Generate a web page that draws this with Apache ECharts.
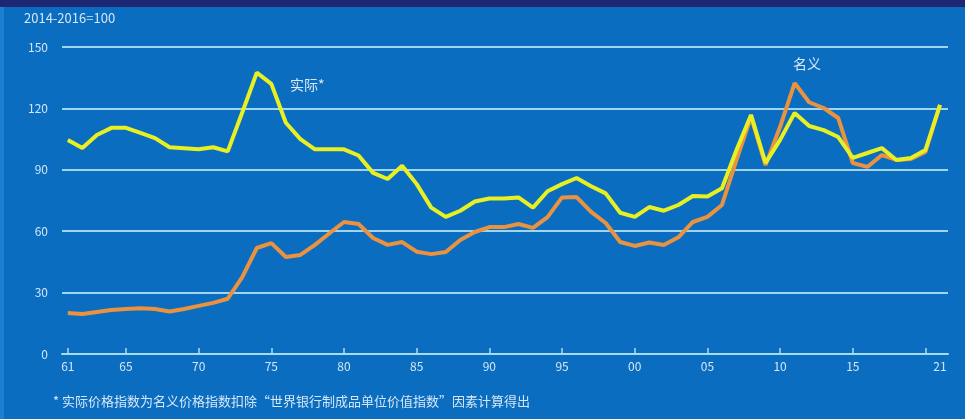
<!DOCTYPE html>
<html>
<head>
<meta charset="utf-8">
<script src="https://cdn.jsdelivr.net/npm/echarts@6/dist/echarts.min.js"></script>
<style>
html,body{margin:0;padding:0;background:#0a6dc0;}
#c{width:965px;height:419px;}
</style>
</head>
<body>
<div id="c"></div>
<script>
const years = [1961,1962,1963,1964,1965,1966,1967,1968,1969,1970,
  1971,1972,1973,1974,1975,1976,1977,1978,1979,1980,
  1981,1982,1983,1984,1985,1986,1987,1988,1989,1990,
  1991,1992,1993,1994,1995,1996,1997,1998,1999,2000,
  2001,2002,2003,2004,2005,2006,2007,2008,2009,2010,
  2011,2012,2013,2014,2015,2016,2017,2018,2019,2020,2021];
const realIndex = [104.6,100.6,107,110.5,110.5,108,105.5,101,100.5,100,
  101,99,118,137.5,132,113,105,100,100,100,
  97,88.5,85.5,92,83,71.5,67,70,74.5,76,
  76,76.5,71.5,79.5,83,86,82,78.5,69,67,
  71.8,70,72.8,77.2,77,81,99.7,116.8,93.3,104.6,
  117.8,111.4,109.4,106,95.8,98.2,100.6,94.8,95.8,99.7,121.7];
const nominalIndex = [20,19.5,20.5,21.5,22,22.4,22,20.8,22,23.5,
  25,27,37.6,51.8,54.2,47.4,48.4,53.3,59,64.5,
  63.5,56.7,53.3,54.7,50,48.8,49.8,55.7,59.6,62,
  62,63.5,61.6,66.9,76.5,76.7,69.4,64,54.7,52.8,
  54.5,53.3,57,64.5,67,72.8,94.8,115.8,92.3,111,
  132.4,123,120.2,115.3,93.3,91.4,97.2,94.8,95.3,98.7,121.7];
const xLabelYears = [1961,1965,1970,1975,1980,1985,1990,1995,2000,2005,2010,2015,2021];
const xTickYears = [1961,1965,1970,1975,1980,1985,1990,1995,2000,2005,2010,2015,2020];
const yTicks = [0,30,60,90,120,150];
const unitNote = '2014-2016=100';
const realName = '实际*';
const nominalName = '名义';
const footnote = '* 实际价格指数为名义价格指数扣除“世界银行制成品单位价值指数”因素计算得出';

const chart = echarts.init(document.getElementById('c'));
const font = '"Noto Sans CJK SC","Noto Sans",sans-serif';
const txt = '#d6e6f6';
chart.setOption({
  backgroundColor: '#0a6dc0',
  animation: false,
  grid: {left: 62, right: 17, top: 47, bottom: 65},
  xAxis: {
    type: 'value',
    min: 1960.6, max: 2021.55,
    axisLine: {show: true, lineStyle: {color: '#a6dcef', width: 2}},
    axisTick: {show: true, inside: true, length: 6, customValues: xTickYears, lineStyle: {color: '#a6dcef', width: 1.5}},
    axisLabel: {customValues: xLabelYears, color: txt, fontSize: 12, fontFamily: font, margin: 6,
      formatter: v => String(Math.round(v) % 100).padStart(2, '0')},
    splitLine: {show: false}
  },
  yAxis: {
    type: 'value',
    min: yTicks[0], max: yTicks[yTicks.length - 1], interval: 30,
    axisLine: {show: false},
    axisTick: {show: false},
    axisLabel: {color: txt, fontSize: 12, fontFamily: font, margin: 14},
    splitLine: {lineStyle: {color: '#9fd6ee', width: 2}}
  },
  series: [
    {name: nominalName, type: 'line', symbol: 'none',
     data: years.map((y, i) => [y, nominalIndex[i]]),
     lineStyle: {color: '#ea9240', width: 4}, z: 2},
    {name: realName, type: 'line', symbol: 'none',
     data: years.map((y, i) => [y, realIndex[i]]),
     lineStyle: {color: '#e8f022', width: 4}, z: 3}
  ],
  graphic: [
    {type: 'rect', shape: {x: 0, y: 0, width: 965, height: 7}, style: {fill: '#1e2774'}, z: 10},
    {type: 'rect', shape: {x: 0, y: 7, width: 4, height: 412}, style: {fill: '#1a80cf'}, z: 10},
    {type: 'text', left: 24, top: 12, style: {text: unitNote, fill: txt, fontSize: 13, fontFamily: font}},
    {type: 'text', left: 290, top: 78, style: {text: realName, fill: '#dce8f5', fontSize: 14, fontFamily: font}},
    {type: 'text', left: 793, top: 57, style: {text: nominalName, fill: '#dce8f5', fontSize: 14, fontFamily: font}},
    {type: 'text', left: 53, top: 395, style: {text: footnote, fill: txt, fontSize: 13, fontFamily: font}}
  ]
});
</script>
</body>
</html>
